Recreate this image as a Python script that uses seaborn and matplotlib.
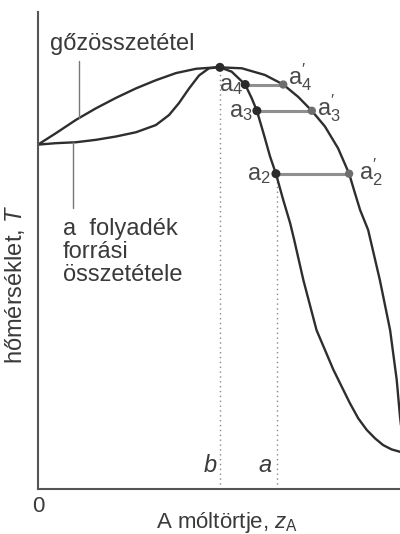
import numpy as np
import matplotlib
matplotlib.use("Agg")
import matplotlib.pyplot as plt
import seaborn as sns

# liquid (boiling) curve: mole fraction of A, temperature (relative)
liq_x = [0.0, 0.049, 0.104, 0.158, 0.213, 0.268, 0.322, 0.358, 0.385, 0.413, 0.440,
         0.467, 0.492, 0.497,
         0.529, 0.566, 0.584, 0.598, 0.616, 0.634, 0.650, 0.670, 0.689, 0.700,
         0.725, 0.761, 0.807, 0.852, 0.875, 0.898, 0.921, 0.943, 0.966, 0.989, 1.0]
liq_y = [0.722, 0.725, 0.727, 0.732, 0.739, 0.748, 0.763, 0.784, 0.809, 0.840, 0.867,
         0.882, 0.884, 0.884,
         0.875, 0.848, 0.819, 0.793, 0.746, 0.697, 0.661, 0.606, 0.557, 0.522,
         0.438, 0.333, 0.250, 0.180, 0.148, 0.124, 0.106, 0.092, 0.083, 0.078, 0.077]

# vapour composition curve
vap_x = [0.0, 0.049, 0.104, 0.158, 0.213, 0.268, 0.322, 0.377, 0.432, 0.486, 0.497,
         0.557, 0.620, 0.670, 0.711, 0.748, 0.784, 0.820, 0.850, 0.866, 0.880,
         0.902, 0.934, 0.962, 0.980, 0.989, 1.0]
vap_y = [0.722, 0.746, 0.774, 0.798, 0.820, 0.840, 0.857, 0.872, 0.881, 0.884, 0.884,
         0.882, 0.868, 0.848, 0.822, 0.793, 0.760, 0.714, 0.661, 0.620, 0.585,
         0.543, 0.438, 0.333, 0.229, 0.152, 0.077]

# tie lines a_n (liquid) -> a_n' (vapour)
tie_liq_x = [0.566, 0.598, 0.650]
tie_vap_x = [0.670, 0.748, 0.850]
tie_y = [0.848, 0.793, 0.661]

azeo_x, azeo_y = 0.497, 0.884
a_x = 0.652

sns.set_style("white")
plt.rcParams["font.family"] = ["Liberation Sans", "DejaVu Sans"]
plt.rcParams["mathtext.fontset"] = "custom"
plt.rcParams["mathtext.rm"] = "Liberation Sans"
plt.rcParams["mathtext.it"] = "Liberation Sans:italic"

fig = plt.figure(figsize=(4, 5.34), dpi=100)
ax = fig.add_axes([0.095, 0.0843, 0.905, 0.8932])

txt = "#3a3a3a"
line_c = "#2e2e2e"

# dotted verticals b and a
ax.plot([azeo_x, azeo_x], [0, azeo_y], ls=(0, (1, 2.5)), color="#888888", lw=1)
ax.plot([a_x, a_x], [0, tie_y[2]], ls=(0, (1, 2.5)), color="#888888", lw=1)

# tie lines
for lx, vx, y in zip(tie_liq_x, tie_vap_x, tie_y):
    ax.plot([lx, vx], [y, y], color="#8f8f8f", lw=2.2, solid_capstyle="butt")

sns.lineplot(x=liq_x, y=liq_y, sort=False, estimator=None, color=line_c, lw=1.7, ax=ax)
sns.lineplot(x=vap_x, y=vap_y, sort=False, estimator=None, color=line_c, lw=1.7, ax=ax)

sns.scatterplot(x=[azeo_x] + tie_liq_x, y=[azeo_y] + tie_y, color="#2a2a2a",
                s=42, edgecolor="none", ax=ax, zorder=5)
sns.scatterplot(x=tie_vap_x, y=tie_y, color="#6e6e6e", s=36, edgecolor="none",
                ax=ax, zorder=5)

# point labels
lab_c = "#4a4a4a"
fs = 17
ax.text(0.527, 0.845, r"$\mathrm{a}_4$", color=lab_c, fontsize=fs, ha="center", va="center")
ax.text(0.555, 0.790, r"$\mathrm{a}_3$", color=lab_c, fontsize=fs, ha="center", va="center")
ax.text(0.604, 0.659, r"$\mathrm{a}_2$", color=lab_c, fontsize=fs, ha="center", va="center")
ax.text(0.716, 0.864, r"$\mathrm{a}_4^{\prime}$", color=lab_c, fontsize=fs, ha="center", va="center")
ax.text(0.795, 0.799, r"$\mathrm{a}_3^{\prime}$", color=lab_c, fontsize=fs, ha="center", va="center")
ax.text(0.910, 0.665, r"$\mathrm{a}_2^{\prime}$", color=lab_c, fontsize=fs, ha="center", va="center")

ax.text(0.470, 0.050, "b", style="italic", color=txt, fontsize=fs, ha="center", va="center")
ax.text(0.620, 0.050, "a", style="italic", color=txt, fontsize=fs, ha="center", va="center")

# callouts
ax.text(0.033, 0.933, "gőzösszetétel", color=txt, fontsize=fs, ha="left", va="center")
ax.plot([0.112, 0.112], [0.897, 0.777], color="#777777", lw=1)
ax.text(0.068, 0.497, "a  folyadék\nforrási\nösszetétele", color=txt, fontsize=fs,
        ha="left", va="center", linespacing=1.05)
ax.plot([0.096, 0.096], [0.727, 0.589], color="#777777", lw=1)

ax.set_xlim(0, 0.989)
ax.set_ylim(0, 1.0)
ax.set_xticks([0])
ax.set_xticklabels(["0"], fontsize=16, color=txt)
ax.set_yticks([])
ax.tick_params(axis="x", length=0, pad=5)
ax.set_xlabel(r"A móltörtje, $z_{\mathrm{A}}$", fontsize=16, color=txt)
ax.xaxis.set_label_coords(0.522, -0.045)
ax.set_ylabel(r"hőmérséklet, $T$", fontsize=fs, color=txt)
ax.yaxis.set_label_coords(-0.030, 0.430)

sns.despine(ax=ax)
for side in ["left", "bottom"]:
    ax.spines[side].set_color("#555555")
    ax.spines[side].set_linewidth(1.5)

fig.savefig("out.png", dpi=100)
